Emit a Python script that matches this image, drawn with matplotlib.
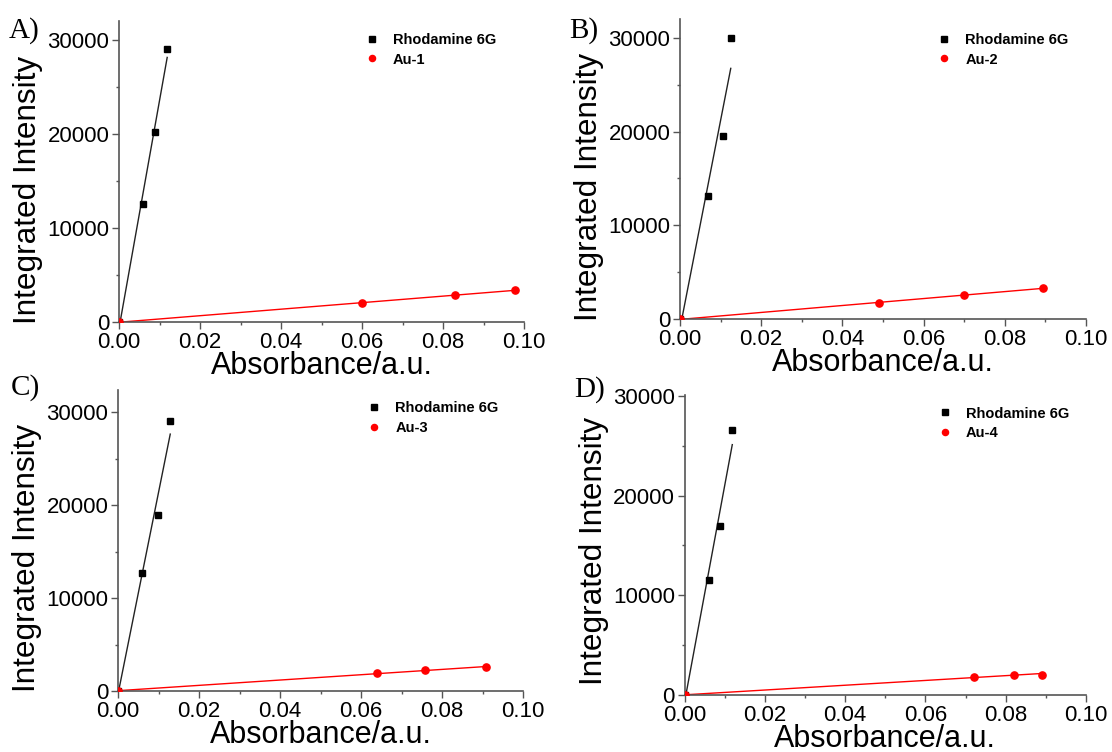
import numpy as np
import matplotlib
matplotlib.use("Agg")
import matplotlib.pyplot as plt
from matplotlib.ticker import MultipleLocator

plt.rcParams['font.family'] = ['Liberation Sans', 'DejaVu Sans']

# data (absorbance, integrated intensity)
r6g_abs_a = [0.0, 0.0059, 0.0088, 0.0119]
r6g_int_a = [0, 12530, 20170, 29000]
au_abs_a = [0.0, 0.0600, 0.0829, 0.0979]
au_int_a = [0, 1985, 2870, 3400]

r6g_abs_b = [0.0, 0.0069, 0.0106, 0.0125]
r6g_int_b = [0, 13120, 19530, 29930]
au_abs_b = [0.0, 0.0489, 0.0700, 0.0893]
au_int_b = [0, 1660, 2585, 3300]

r6g_abs_c = [0.0, 0.0059, 0.0098, 0.0129]
r6g_int_c = [0, 12730, 18910, 29060]
au_abs_c = [0.0, 0.0639, 0.0759, 0.0909]
au_int_c = [0, 1970, 2220, 2550]

r6g_abs_d = [0.0, 0.0060, 0.0088, 0.0119]
r6g_int_d = [0, 11560, 16970, 26540]
au_abs_d = [0.0, 0.0720, 0.0820, 0.0890]
au_int_d = [0, 1815, 2050, 2050]

panel_letters = ['A)', 'B)', 'C)', 'D)']
au_names = ['Au-1', 'Au-2', 'Au-3', 'Au-4']
ylims = [32000, 32000, 32400, 30100]

panels = [
    (r6g_abs_a, r6g_int_a, au_abs_a, au_int_a),
    (r6g_abs_b, r6g_int_b, au_abs_b, au_int_b),
    (r6g_abs_c, r6g_int_c, au_abs_c, au_int_c),
    (r6g_abs_d, r6g_int_d, au_abs_d, au_int_d),
]

W, H = 1112, 752
# axes boxes in pixels: left, top, right, bottom
boxes = [(119, 21, 524, 322), (680, 19, 1086, 319),
         (118, 390, 523, 691), (684.5, 395, 1086, 695)]
letter_pos = [(9, 31), (569, 31), (11, 388), (574, 390)]
legend_pos = [(364.5, 33.5), (937, 33.5), (367, 401.5), (937.5, 406.5)]
ylabel_y = [0.44, 0.44, 0.443, 0.48]

fig = plt.figure(figsize=(W / 100, H / 100), dpi=100)

for i, (xs, ys, xa, ya) in enumerate(panels):
    l, t, r, b = boxes[i]
    ax = fig.add_axes([l / W, 1 - b / H, (r - l) / W, (b - t) / H])

    # linear fits
    k1 = np.polyfit(xs, ys, 1)
    k2 = np.polyfit(xa, ya, 1)
    xf1 = np.array([0, max(xs)])
    xf2 = np.array([0, max(xa)])
    ax.plot(xf1, np.polyval(k1, xf1), color='#222222', lw=1.0, zorder=2)
    ax.plot(xf2, np.polyval(k2, xf2), color='red', lw=1.0, zorder=2)

    ax.plot(xs, ys, 's', color='black', ms=4.8, label='Rhodamine 6G', zorder=3)
    ax.plot(xa, ya, 'o', color='red', ms=5.2, label=au_names[i], zorder=3)

    ax.set_xlim(0, 0.10)
    ax.set_ylim(0, ylims[i])
    ax.xaxis.set_major_locator(MultipleLocator(0.02))
    ax.xaxis.set_minor_locator(MultipleLocator(0.01))
    ax.yaxis.set_major_locator(MultipleLocator(10000))
    ax.yaxis.set_minor_locator(MultipleLocator(5000))
    ax.xaxis.set_major_formatter(plt.FuncFormatter(lambda v, p: '%.2f' % v))

    for s in ['top', 'right']:
        ax.spines[s].set_visible(False)
    for s in ['left', 'bottom']:
        ax.spines[s].set_color('#555555')
        ax.spines[s].set_linewidth(1.2)
    ax.tick_params(which='major', direction='out', length=5, width=1.0,
                   color='#555555', labelsize=16, pad=2)
    ax.tick_params(which='minor', direction='out', length=2.5, width=1.0,
                   color='#555555')

    ax.set_xlabel('Absorbance/a.u.', fontsize=22, labelpad=-1)
    ax.set_ylabel('Integrated Intensity', fontsize=22.7, labelpad=3)
    ax.yaxis.label.set_y(ylabel_y[i])

    lx, ly = legend_pos[i]
    ax.legend(loc='upper left', bbox_to_anchor=(lx / W, 1 - ly / H),
              bbox_transform=fig.transFigure, frameon=False,
              prop={'weight': 'bold', 'size': 10.5}, borderpad=0,
              borderaxespad=0, handlelength=1.0, handletextpad=0.94,
              labelspacing=0.35, markerscale=0.85)

    px, py = letter_pos[i]
    fig.text(px / W, 1 - py / H, panel_letters[i], family='Liberation Serif',
             fontsize=21, va='center', ha='left')

fig.savefig('out.png', dpi=100)
